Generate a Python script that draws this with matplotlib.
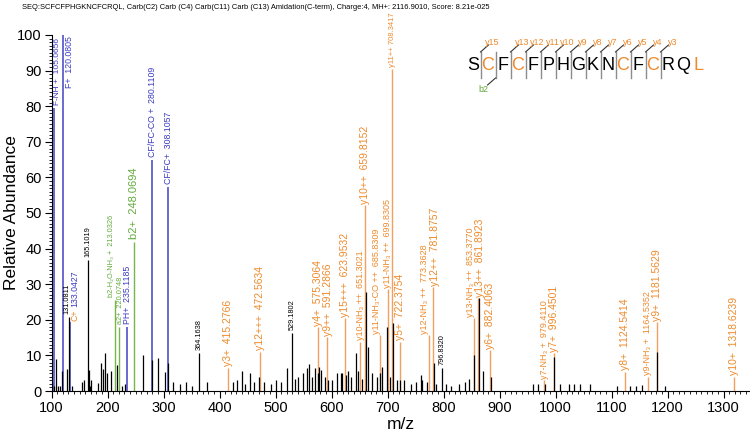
import matplotlib
matplotlib.use("Agg")
import matplotlib.pyplot as plt
from matplotlib.ticker import MultipleLocator

plt.rcParams['font.family'] = ['Liberation Sans', 'DejaVu Sans']

title = ("SEQ:SCFCFPHGKNCFCRQL, Carb(C2) Carb (C4) Carb(C11) Carb (C13) "
         "Amidation(C-term), Charge:4, MH+: 2116.9010, Score: 8.21e-025")

# unlabelled (black) peaks
noise_mz = [101.0, 104.5, 108.5, 112.0, 115.0, 119.5, 127.0, 136.0, 155.0, 158.0,
            166.2, 168.7, 171.0, 183.0, 187.8, 191.4, 195.5, 199.0, 206.3, 216.4,
            225.0, 231.0, 262.8, 279.5, 290.8, 303.3, 307.5, 317.0, 330.0, 340.0,
            351.0, 377.0, 424.0, 431.0, 439.6, 446.0, 454.5, 461.0, 470.5, 480.0,
            491.0, 501.0, 509.0, 520.0, 534.0, 540.0, 549.7, 555.7, 560.0, 565.0,
            570.0, 575.5, 578.3, 581.0, 589.0, 594.3, 600.0, 609.0, 616.0, 619.3,
            626.0, 630.0, 634.8, 643.8, 648.0, 654.0, 661.6, 665.7, 672.0, 681.0,
            686.0, 690.7, 699.6, 704.0, 710.4, 716.0, 722.0, 730.0, 741.0, 751.0,
            759.3, 762.0, 771.0, 783.0, 786.0, 805.0, 814.0, 828.0, 839.0, 845.0,
            854.5, 863.4, 871.0, 884.0, 959.0, 968.0, 981.0, 996.5, 1008.0, 1023.0,
            1032.0, 1043.0, 1062.0, 1109.0, 1133.0, 1143.0, 1155.0, 1181.6, 1196.0]
noise_h = [2.5, 1.5, 9.0, 1.5, 1.5, 5.7, 6.2, 1.5, 2.5, 3.0,
           5.8, 1.5, 3.0, 2.2, 8.0, 6.2, 10.6, 5.0, 5.7, 7.3,
           1.5, 2.0, 10.0, 8.7, 9.3, 5.4, 7.9, 2.5, 2.0, 2.5,
           1.5, 2.5, 2.5, 3.0, 5.6, 2.0, 5.1, 2.5, 4.0, 2.5,
           2.0, 3.0, 2.5, 6.5, 3.5, 4.0, 5.0, 6.5, 7.5, 4.0,
           6.5, 5.0, 6.8, 6.0, 4.0, 3.0, 3.0, 5.0, 5.0, 5.0,
           4.6, 5.5, 4.0, 10.6, 5.5, 3.5, 27.9, 12.4, 5.0, 4.0,
           5.0, 6.8, 18.0, 4.0, 19.2, 3.0, 3.0, 3.0, 2.0, 2.5,
           4.5, 3.0, 2.5, 7.8, 2.0, 2.0, 1.5, 2.0, 2.5, 3.5,
           10.0, 26.0, 5.7, 4.0, 2.0, 2.0, 2.0, 9.6, 2.0, 2.0,
           2.0, 2.0, 2.0, 1.5, 1.5, 1.5, 1.8, 11.0, 1.5]

# labelled black peaks
black_mz = [131.0811, 165.1019, 364.1638, 529.1802, 796.8320]
black_h = [20.8, 36.8, 10.7, 16.3, 6.5]

# immonium / internal ions (blue)
blue_names = ["F-NH +", "F+", "C+", "PH+", "CF/FC-CO +", "CF/FC+"]
blue_mz = [105.0656, 120.0805, 133.0427, 235.1185, 280.1109, 308.1057]
blue_h = [79.5, 100.0, 19.4, 18.0, 64.9, 57.3]

# b / a ions (green)
green_names = ["b2-H\u2082O-NH\u2083 +", "a2+", "b2+"]
green_mz = [213.0326, 220.0748, 248.0694]
green_h = [25.6, 18.0, 41.9]

# y ions (orange)
y_names = ["y3+", "y12+++", "y4+", "y9++", "y15+++", "y10-NH\u2083 ++", "y10++",
           "y11-NH\u2083-CO ++", "y11-NH\u2083 ++", "y11++", "y5+", "y12-NH\u2083 ++",
           "y12++", "y13-NH\u2083 ++", "y13++", "y6+", "y7-NH\u2083 +", "y7+", "y8+",
           "y9-NH\u2083 +", "y9+", "y10+"]
y_mz = [415.2766, 472.5634, 575.3064, 591.2866, 623.9532, 651.3021, 659.8152,
        685.8309, 699.8305, 708.3417, 722.3754, 773.3628, 781.8757, 853.3770,
        861.8923, 882.4063, 979.4110, 996.4501, 1124.5414, 1164.5352, 1181.5629,
        1318.6239]
y_h = [6.5, 11.0, 18.0, 15.2, 20.5, 13.8, 52.2, 15.7, 28.6, 90.5, 13.8, 15.7,
       29.2, 20.5, 26.1, 11.5, 3.0, 10.7, 5.4, 4.0, 19.4, 4.0]

sequence = "SCFCFPHGKNCFCRQL"
modified = [1, 3, 10, 12, 15]
y_found = [15, 13, 12, 11, 10, 9, 8, 7, 6, 5, 4, 3]
b_found = [2]

BLUE_LINE, BLUE_TXT = "#4242c4", "#3a3ac4"
GREEN_LINE, GREEN_TXT = "#78b64a", "#62aa3c"
ORANGE_LINE, ORANGE_TXT = "#f2a060", "#ee8a2c"

# small sideways nudges (points) so crowded labels sit side by side
nudge = {"y9++": 1.0, "y11-NH\u2083-CO ++": -2.0, "y12-NH\u2083 ++": -3.0,
         "y12++": 1.0, "y13-NH\u2083 ++": -2.0, "y13++": 1.0,
         "b2-H\u2082O-NH\u2083 +": -2.5, "a2+": 1.0, "F-NH +": 2.5}

fig = plt.figure(figsize=(7.5, 4.38), dpi=100)
ax = fig.add_axes([0.0687, 0.1073, 0.9313, 0.8128])


def label(txt, x, h, color, size, dx=0, dy=2, ha='center', va='bottom'):
    ax.annotate(txt, (x, h), xytext=(dx, dy), textcoords='offset points',
                rotation=90, ha=ha, va=va, color=color, fontsize=size,
                annotation_clip=False)


ax.vlines(blue_mz, 0, blue_h, color=BLUE_LINE, lw=1.1)
ax.vlines(green_mz, 0, green_h, color=GREEN_LINE, lw=1.0)
ax.vlines(y_mz, 0, y_h, color=ORANGE_LINE, lw=1.0)
ax.vlines(noise_mz, 0, noise_h, color='black', lw=0.9)
ax.vlines(black_mz, 0, black_h, color='black', lw=0.9)

for name, mz, h in zip(blue_names, blue_mz, blue_h):
    if name == "F+":
        label(f"{name}  {mz:.4f}", mz, h, BLUE_TXT, 6.3, dx=1.5, dy=-1, ha='left', va='top')
    elif name == "C+":
        label("C+", mz, h, ORANGE_TXT, 6.3, dx=3.5, dy=1)
        label(f"{mz:.4f}", mz, h, BLUE_TXT, 6.3, dx=3.5, dy=11)
    else:
        size = 6.0 if name == "F-NH +" else 6.3
        label(f"{name}  {mz:.4f}", mz, h, BLUE_TXT, size, dx=nudge.get(name, 0))

for name, mz, h in zip(green_names, green_mz, green_h):
    size = 8 if name == "b2+" else 5.3
    label(f"{name}  {mz:.4f}", mz, h, GREEN_TXT, size, dx=nudge.get(name, 0))

for name, mz, h in zip(y_names, y_mz, y_h):
    size = 6.5 if "NH" in name else 7.5
    sep = "  "
    if h > 80:
        size, sep = 5.5, " "
    label(f"{name}{sep}{mz:.4f}", mz, h, ORANGE_TXT, size, dx=nudge.get(name, 0), dy=1)

for mz, h in zip(black_mz, black_h):
    dx = -1.5 if mz < 140 else 0
    label(f"{mz:.4f}", mz, h, 'black', 5.3, dx=dx)

ax.set_xlim(100, 1347)
ax.set_ylim(0, 100)
ax.xaxis.set_major_locator(MultipleLocator(100))
ax.xaxis.set_minor_locator(MultipleLocator(10))
ax.yaxis.set_major_locator(MultipleLocator(10))
ax.yaxis.set_minor_locator(MultipleLocator(1))
ax.tick_params(which='major', length=5, width=0.8, labelsize=10.5, pad=2)
ax.tick_params(which='minor', length=2.5, width=0.6)
for s in ['top', 'right']:
    ax.spines[s].set_visible(False)
ax.set_xlabel("m/z", fontsize=12.5)
ax.set_ylabel("Relative Abundance", fontsize=12.5)
ax.xaxis.set_label_coords(0.5, -0.074)
ax.yaxis.set_label_coords(-0.047, 0.5)

fig.text(0.029, 0.992, title, fontsize=5.4, ha='left', va='top')

# sequence with fragment marks, drawn in residue units
sx = fig.add_axes([465.5 / 750, 1 - 95 / 438, 240 / 750, 60 / 438])
sx.set_xlim(-0.5, 15.5)
sx.set_ylim(0, 1)
sx.axis('off')
for i, aa in enumerate(sequence):
    sx.text(i, 0.5, aa, ha='center', va='center', fontsize=13,
            color=ORANGE_TXT if i in modified else 'black')
for n in y_found:
    xc = len(sequence) - n - 0.5
    sx.plot([xc, xc], [0.283, 0.717], color='#8c8c8c', lw=1.0)
    sx.plot([xc, xc + 0.53], [0.717, 0.833], color='#333333', lw=0.8)
    sx.text(xc + 0.8, 0.87, f"y{n}", ha='center', va='center', fontsize=6.5,
            color=ORANGE_TXT)
for n in b_found:
    xc = n - 0.5
    sx.plot([xc, xc], [0.283, 0.717], color='#8c8c8c', lw=1.0)
    sx.plot([xc, xc - 0.53], [0.283, 0.167], color='#333333', lw=0.8)
    sx.text(xc - 0.8, 0.1, f"b{n}", ha='center', va='center', fontsize=6.5,
            color=GREEN_TXT)

fig.savefig("out.png", dpi=100)
